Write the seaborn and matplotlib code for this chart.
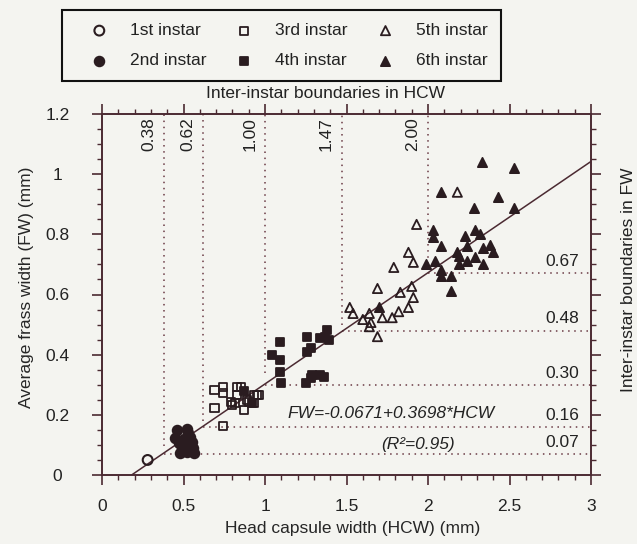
import numpy as np
import pandas as pd
import matplotlib.pyplot as plt
import seaborn as sns
from matplotlib.ticker import MultipleLocator

# Head capsule width (HCW) and frass width (FW) per instar, in mm
hcw_1st = [0.28]
fw_1st = [0.05]

hcw_2nd = [0.46, 0.52, 0.54, 0.47, 0.49, 0.52, 0.56, 0.55, 0.45, 0.48, 0.565, 0.50, 0.51, 0.53]
fw_2nd = [0.15, 0.153, 0.127, 0.107, 0.09, 0.077, 0.09, 0.11, 0.123, 0.073, 0.073, 0.12, 0.10, 0.14]

hcw_3rd = [0.69, 0.74, 0.74, 0.69, 0.85, 0.83, 0.80, 0.87, 0.89, 0.93, 0.96, 0.74, 0.83, 0.79, 0.815, 0.90, 0.93, 0.95]
fw_3rd = [0.283, 0.293, 0.273, 0.223, 0.293, 0.267, 0.233, 0.217, 0.25, 0.267, 0.267, 0.163, 0.293, 0.243, 0.24, 0.243, 0.24, 0.267]

hcw_4th = [1.09, 1.04, 1.09, 1.09, 1.10, 1.26, 1.26, 1.28, 1.34, 1.38, 1.37, 1.39, 1.25, 1.28, 1.29, 1.34, 1.36, 0.87, 0.92]
fw_4th = [0.443, 0.40, 0.383, 0.343, 0.307, 0.46, 0.41, 0.423, 0.457, 0.483, 0.46, 0.45, 0.307, 0.323, 0.333, 0.333, 0.327, 0.28, 0.24]

hcw_5th = [1.93, 1.88, 1.91, 1.79, 1.69, 1.90, 1.83, 1.91, 1.88, 1.82, 1.52, 1.54, 1.60, 1.64, 1.65, 1.72, 1.78, 1.64, 1.69, 2.18]
fw_5th = [0.833, 0.74, 0.707, 0.69, 0.62, 0.627, 0.607, 0.59, 0.557, 0.543, 0.557, 0.537, 0.517, 0.537, 0.507, 0.523, 0.523, 0.493, 0.46, 0.94]

hcw_6th = [2.33, 2.53, 2.08, 2.43, 2.28, 2.53, 2.03, 2.03, 2.08, 2.23, 2.29, 2.32, 2.24, 2.18, 2.19,
           2.19, 2.24, 2.29, 2.34, 2.38, 2.40, 2.34, 1.99, 2.04, 2.08, 2.08, 2.14, 2.14, 1.70]
fw_6th = [1.04, 1.02, 0.94, 0.923, 0.887, 0.887, 0.813, 0.79, 0.76, 0.793, 0.813, 0.80, 0.76, 0.74, 0.727,
          0.70, 0.71, 0.723, 0.753, 0.763, 0.74, 0.70, 0.703, 0.71, 0.683, 0.66, 0.663, 0.61, 0.56]

# regression FW = a + b*HCW
intercept = -0.0671
slope = 0.3698

# inter-instar boundaries
hcw_bounds = [0.38, 0.62, 1.00, 1.47, 2.00]
hcw_bound_labels = ['0.38', '0.62', '1.00', '1.47', '2.00']
hcw_bound_bottom = [0.095, 0.18, 0.34, 0.50, 0.68]
fw_bounds = [0.07, 0.16, 0.30, 0.48, 0.67]
fw_bound_labels = ['0.07', '0.16', '0.30', '0.48', '0.67']
fw_bound_start = [0.38, 0.62, 1.00, 1.47, 2.00]

ink = '#2a1c20'
line_col = '#4b2a32'
dot_col = '#6a3a44'
bg = '#f4f4f0'
fs = 12.5

sns.set_style('ticks')
plt.rcParams['font.family'] = ['Liberation Sans', 'DejaVu Sans']
plt.rcParams['text.color'] = '#222222'
plt.rcParams['xtick.color'] = line_col
plt.rcParams['ytick.color'] = line_col
plt.rcParams['xtick.labelcolor'] = '#222222'
plt.rcParams['ytick.labelcolor'] = '#222222'

fig = plt.figure(figsize=(6.37, 5.44), dpi=100, facecolor=bg)
ax = fig.add_axes([102 / 637, 69 / 544, 489 / 637, 361 / 544])
ax.set_facecolor(bg)

# boundary lines
ax.vlines(hcw_bounds, hcw_bound_bottom, 1.2, colors=dot_col, linestyles=(0, (1, 3)), linewidth=1.1)
ax.hlines(fw_bounds, fw_bound_start, 3.0, colors=dot_col, linestyles=(0, (1, 3)), linewidth=1.1)
for xb, lab in zip(hcw_bounds, hcw_bound_labels):
    ax.annotate(lab, (xb, 1.19), xytext=(-11, 0), textcoords='offset points',
                rotation=90, ha='center', va='top', fontsize=fs)
for yb, lab in zip(fw_bounds, fw_bound_labels):
    ax.annotate(lab, (2.93, yb), xytext=(0, 3), textcoords='offset points',
                ha='right', va='bottom', fontsize=fs)

# fitted line
x_fit = np.array([-intercept / slope, 3.0])
sns.lineplot(x=x_fit, y=intercept + slope * x_fit, color=line_col, linewidth=1.1, ax=ax)

# instar groups
groups = [
    (hcw_1st, fw_1st, 'o', False, '1st instar', 50),
    (hcw_2nd, fw_2nd, 'o', True, '2nd instar', 46),
    (hcw_3rd, fw_3rd, 's', False, '3rd instar', 34),
    (hcw_4th, fw_4th, 's', True, '4th instar', 34),
    (hcw_5th, fw_5th, '^', False, '5th instar', 44),
    (hcw_6th, fw_6th, '^', True, '6th instar', 44),
]
for xs, ys, m, filled, lab, size in groups:
    sns.scatterplot(x=xs, y=ys, marker=m, s=size, color=ink,
                    facecolor=ink if filled else 'none', edgecolor=ink,
                    linewidth=1.5 if m == 'o' else 1.3, label=lab, ax=ax, zorder=3)
ax.get_legend().remove()

ax.set_xlim(0, 3)
ax.set_ylim(0, 1.2)
ax.xaxis.set_minor_locator(MultipleLocator(0.1))
ax.yaxis.set_minor_locator(MultipleLocator(0.05))
ax.set_xticks([0, 0.5, 1, 1.5, 2, 2.5, 3], ['0', '0.5', '1', '1.5', '2', '2.5', '3'])
ax.set_yticks([0, 0.2, 0.4, 0.6, 0.8, 1.0, 1.2], ['0', '0.2', '0.4', '0.6', '0.8', '1', '1.2'])
ax.tick_params(which='both', top=True, right=True, direction='out', labelsize=fs)
ax.tick_params(axis='x', which='major', length=7, width=1.2, pad=10)
ax.tick_params(axis='y', which='major', length=7, width=1.2, pad=25)
ax.tick_params(which='minor', length=3.5, width=1.0)
for t in ax.get_yticklabels():
    t.set_horizontalalignment('center')
for sp in ax.spines.values():
    sp.set_color(line_col)
    sp.set_linewidth(1.4)

ax.set_xlabel('Head capsule width (HCW) (mm)', fontsize=fs)
ax.xaxis.set_label_coords(0.513, -0.147)
ax.xaxis.label.set_verticalalignment('center')
ax.set_ylabel('Average frass width (FW) (mm)', fontsize=fs)
ax.yaxis.set_label_coords(-0.155, 0.521)
ax.yaxis.label.set_verticalalignment('center')
ax.text(0.458, 1.058, 'Inter-instar boundaries in HCW', transform=ax.transAxes,
        ha='center', va='center', fontsize=fs)
ax.text(1.076, 0.54, 'Inter-instar boundaries in FW', transform=ax.transAxes,
        rotation=90, ha='center', va='center', fontsize=fs)

ax.text(1.135, 0.205, 'FW=-0.0671+0.3698*HCW', style='italic', fontsize=fs,
        ha='left', va='center')
ax.text(1.71, 0.103, '(R²=0.95)', style='italic', fontsize=fs, ha='left', va='center')

handles, labels = ax.get_legend_handles_labels()
leg = fig.legend(handles, labels, ncol=3, loc='upper left',
                 bbox_to_anchor=(62 / 637, 1 - 10 / 544), frameon=True, fancybox=False,
                 edgecolor='#111111', facecolor=bg, framealpha=1, fontsize=fs,
                 handlelength=2.8, handletextpad=0.35, columnspacing=0.8,
                 borderpad=0.75, labelspacing=0.85, borderaxespad=0)
leg.get_frame().set_linewidth(1.5)

plt.savefig('out.png', dpi=100, facecolor=bg)
